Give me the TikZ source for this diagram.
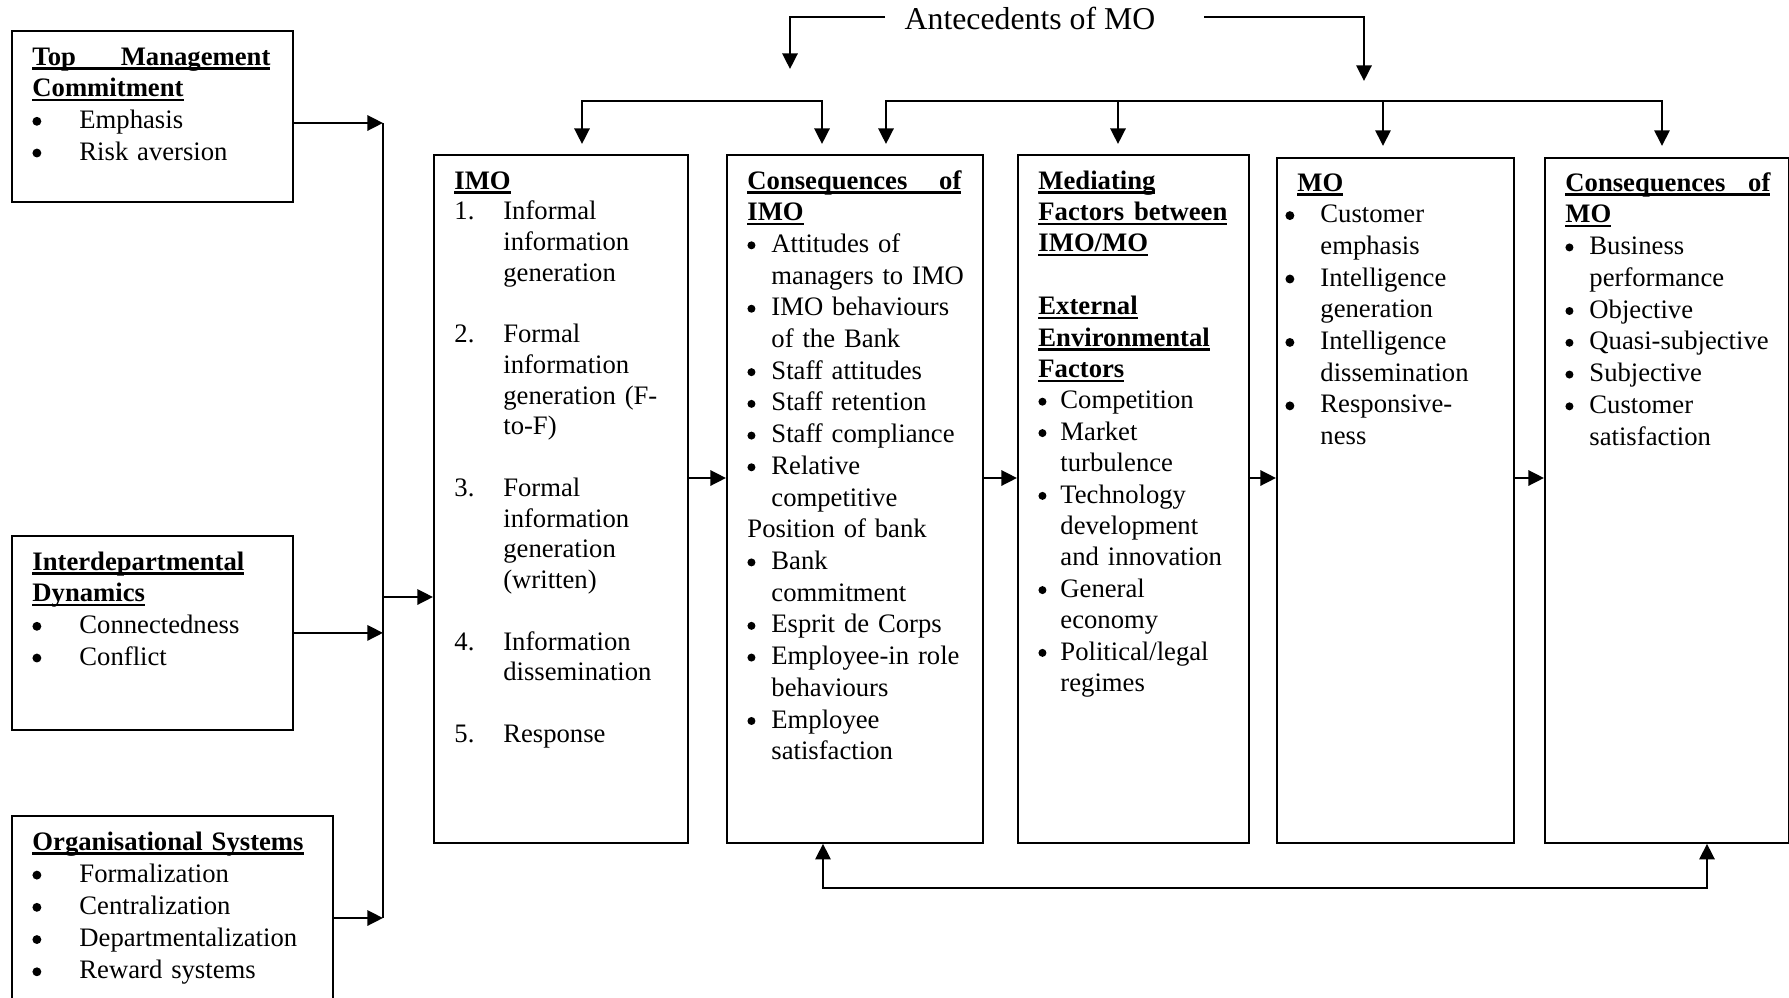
\documentclass[tikz,border=0pt]{standalone}
\usepackage{fontspec}
\setmainfont{Liberation Serif}
\usetikzlibrary{arrows.meta}

% bold heading with a fixed-depth underline
\newcommand\ulhead[1]{\leavevmode\setbox0=\hbox{\bfseries #1}\rlap{\rule[-2.1pt]{\wd0}{1.1pt}}\box0}
% list label of a given width, and a hanging indent of the same width
\newcommand\mk[2]{\makebox[#1][l]{#2}}
\newcommand\hs[1]{\hspace*{#1}}
% round bullet: #1 radius
\newcommand\bdot[1]{\tikz[baseline=0pt]\fill (#1,3.2pt) circle (#1);}

\begin{document}
\begin{tikzpicture}[x=0.45pt,y=-0.45pt,
  box/.style={draw, line width=0.8pt, anchor=north west, inner sep=0pt},
  txt/.style={anchor=base west, inner sep=0pt, align=left, text width=#1},
  tip/.tip={Triangle[length=7pt,width=6.8pt]},
  link/.style={line width=1.15pt, -tip},
  biway/.style={line width=1.15pt, tip-tip},
  bar/.style={line width=1.15pt}]
\clip (0,0) rectangle (1789,998);
\fill[white] (0,0) rectangle (1789,998);

% ---------- boxes ----------
\node[box, minimum width=281*0.45pt, minimum height=171*0.45pt] (tmc) at (11,30) {};
\node[box, minimum width=281*0.45pt, minimum height=194*0.45pt] (idd) at (11,535) {};
\node[box, minimum width=321*0.45pt, minimum height=200*0.45pt] (org) at (11,815) {};
\node[box, minimum width=254*0.45pt, minimum height=688*0.45pt] (imo) at (433,154) {};
\node[box, minimum width=256*0.45pt, minimum height=688*0.45pt] (cimo) at (726,154) {};
\node[box, minimum width=231*0.45pt, minimum height=688*0.45pt] (med) at (1017,154) {};
\node[box, minimum width=237*0.45pt, minimum height=685*0.45pt] (mo) at (1276,157) {};
\node[box, minimum width=244*0.45pt, minimum height=685*0.45pt] (cmo) at (1544,157) {};

% ---------- texts ----------
\node[txt=130pt, font=\fontsize{12}{14.27}\selectfont] (tmct) at (32,65)
  {\ulhead{\hbox to 107.1pt{Top\hfill Management}}\\
   \ulhead{Commitment}\\
   \mk{21.15pt}{\bdot{2pt}}Emphasis\\
   \mk{21.15pt}{\bdot{2pt}}Risk aversion};

\node[txt=130pt, font=\fontsize{12}{14.27}\selectfont] (iddt) at (32,570)
  {\ulhead{Interdepartmental}\\
   \ulhead{Dynamics}\\
   \mk{21.15pt}{\bdot{2pt}}Connectedness\\
   \mk{21.15pt}{\bdot{2pt}}Conflict};

\node[txt=140pt, font=\fontsize{12}{14.5}\selectfont] (orgt) at (32,850)
  {\ulhead{Organisational Systems}\\
   \mk{21.15pt}{\bdot{2pt}}Formalization\\
   \mk{21.15pt}{\bdot{2pt}}Centralization\\
   \mk{21.15pt}{\bdot{2pt}}Departmentalization\\
   \mk{21.15pt}{\bdot{2pt}}Reward systems};

\node[txt=120pt, font=\fontsize{12}{13.83}\selectfont] (imot) at (454,189)
  {\ulhead{IMO}\\
   \mk{22pt}{1.}Informal\\ \hs{22pt}information\\ \hs{22pt}generation\\[\baselineskip]
   \mk{22pt}{2.}Formal\\ \hs{22pt}information\\ \hs{22pt}generation (F-\\ \hs{22pt}to-F)\\[\baselineskip]
   \mk{22pt}{3.}Formal\\ \hs{22pt}information\\ \hs{22pt}generation\\ \hs{22pt}(written)\\[\baselineskip]
   \mk{22pt}{4.}Information\\ \hs{22pt}dissemination\\[\baselineskip]
   \mk{22pt}{5.}Response};

\node[txt=120pt, font=\fontsize{12}{14.27}\selectfont] (cimot) at (747,189)
  {\ulhead{\hbox to 96.3pt{Consequences\hfill of}}\\
   \ulhead{IMO}\\
   \mk{10.8pt}{\bdot{1.8pt}}Attitudes of\\ \hs{10.8pt}managers to IMO\\
   \mk{10.8pt}{\bdot{1.8pt}}IMO behaviours\\ \hs{10.8pt}of the Bank\\
   \mk{10.8pt}{\bdot{1.8pt}}Staff attitudes\\
   \mk{10.8pt}{\bdot{1.8pt}}Staff retention\\
   \mk{10.8pt}{\bdot{1.8pt}}Staff compliance\\
   \mk{10.8pt}{\bdot{1.8pt}}Relative\\ \hs{10.8pt}competitive\\
   Position of bank\\
   \mk{10.8pt}{\bdot{1.8pt}}Bank\\ \hs{10.8pt}commitment\\
   \mk{10.8pt}{\bdot{1.8pt}}Esprit de Corps\\
   \mk{10.8pt}{\bdot{1.8pt}}Employee-in role\\ \hs{10.8pt}behaviours\\
   \mk{10.8pt}{\bdot{1.8pt}}Employee\\ \hs{10.8pt}satisfaction};

\node[txt=100pt, font=\fontsize{12}{14.13}\selectfont] (medt) at (1038,189)
  {\ulhead{Mediating}\\
   \ulhead{\hbox to 85pt{Factors\hfill between}}\\
   \ulhead{IMO/MO}\\[\baselineskip]
   \ulhead{External}\\
   \ulhead{Environmental}\\
   \ulhead{Factors}\\
   \mk{9.9pt}{\bdot{1.8pt}}Competition\\
   \mk{9.9pt}{\bdot{1.8pt}}Market\\ \hs{9.9pt}turbulence\\
   \mk{9.9pt}{\bdot{1.8pt}}Technology\\ \hs{9.9pt}development\\ \hs{9.9pt}and innovation\\
   \mk{9.9pt}{\bdot{1.8pt}}General\\ \hs{9.9pt}economy\\
   \mk{9.9pt}{\bdot{1.8pt}}Political/legal\\ \hs{9.9pt}regimes};

\node[txt=100pt, font=\fontsize{12}{14.27}\selectfont] (mot) at (1285,191)
  {\hs{5.4pt}\ulhead{MO}\\
   \mk{15.75pt}{\bdot{2pt}}Customer\\ \hs{15.75pt}emphasis\\
   \mk{15.75pt}{\bdot{2pt}}Intelligence\\ \hs{15.75pt}generation\\
   \mk{15.75pt}{\bdot{2pt}}Intelligence\\ \hs{15.75pt}dissemination\\
   \mk{15.75pt}{\bdot{2pt}}Responsive-\\ \hs{15.75pt}ness};

\node[txt=100pt, font=\fontsize{12}{14.3}\selectfont] (cmot) at (1565,191)
  {\ulhead{\hbox to 92.25pt{Consequences\hfill of}}\\
   \ulhead{MO}\\
   \mk{10.8pt}{\bdot{1.8pt}}Business\\ \hs{10.8pt}performance\\
   \mk{10.8pt}{\bdot{1.8pt}}Objective\\
   \mk{10.8pt}{\bdot{1.8pt}}Quasi-subjective\\
   \mk{10.8pt}{\bdot{1.8pt}}Subjective\\
   \mk{10.8pt}{\bdot{1.8pt}}Customer\\ \hs{10.8pt}satisfaction};

\node[anchor=base, inner sep=0pt, font=\fontsize{14.3}{17}\selectfont] (ante) at (1030,29)
  {Antecedents of MO};

% ---------- left bus into IMO ----------
\coordinate (busTop) at (383,123);
\coordinate (busBot) at (383,918);
\coordinate (busJ) at (383,597);
\draw[bar] (busTop) -- (busBot);
\draw[link] (tmc.east |- busTop) -- (busTop);
\draw[link] (idd.east) -- (idd.east -| busTop);
\draw[link] (org.east |- busBot) -- (busBot);
\draw[link] (busJ) -- (busJ -| imo.west);

% ---------- main chain ----------
\coordinate (row) at (0,478);
\draw[link] (imo.east |- row) -- (cimo.west |- row);
\draw[link] (cimo.east |- row) -- (med.west |- row);
\draw[link] (med.east |- row) -- (mo.west |- row);
\draw[link] (mo.east |- row) -- (cmo.west |- row);

% ---------- antecedents brackets ----------
\coordinate (antL) at (885,17);
\coordinate (tipL) at (790,69);
\coordinate (antR) at (1204,17);
\coordinate (tipR) at (1364,81);
\draw[link] (antL) -| (tipL);
\draw[link] (antR) -| (tipR);

% ---------- distribution lines above the boxes ----------
\coordinate (d1) at (582,101);
\coordinate (d2) at (822,101);
\draw[biway, shorten <=4.5pt, shorten >=4.5pt]
  (d1 |- imo.north) -- (d1) -- (d2) -- (d2 |- cimo.north);
\coordinate (e0) at (886,101);
\coordinate (e1) at (1118,101);
\coordinate (e2) at (1383,101);
\coordinate (e3) at (1662,101);
\draw[biway, shorten <=4.5pt, shorten >=5pt]
  (e0 |- cimo.north) -- (e0) -- (e3) -- (e3 |- cmo.north);
\draw[link, shorten >=4.5pt] (e1) -- (e1 |- med.north);
\draw[link, shorten >=5pt] (e2) -- (e2 |- mo.north);

% ---------- feedback loop below ----------
\coordinate (f1) at (823,888);
\coordinate (f2) at (1707,888);
\draw[biway] (f1 |- cimo.south) -- (f1) -- (f2) -- (f2 |- cmo.south);
\end{tikzpicture}
\end{document}
